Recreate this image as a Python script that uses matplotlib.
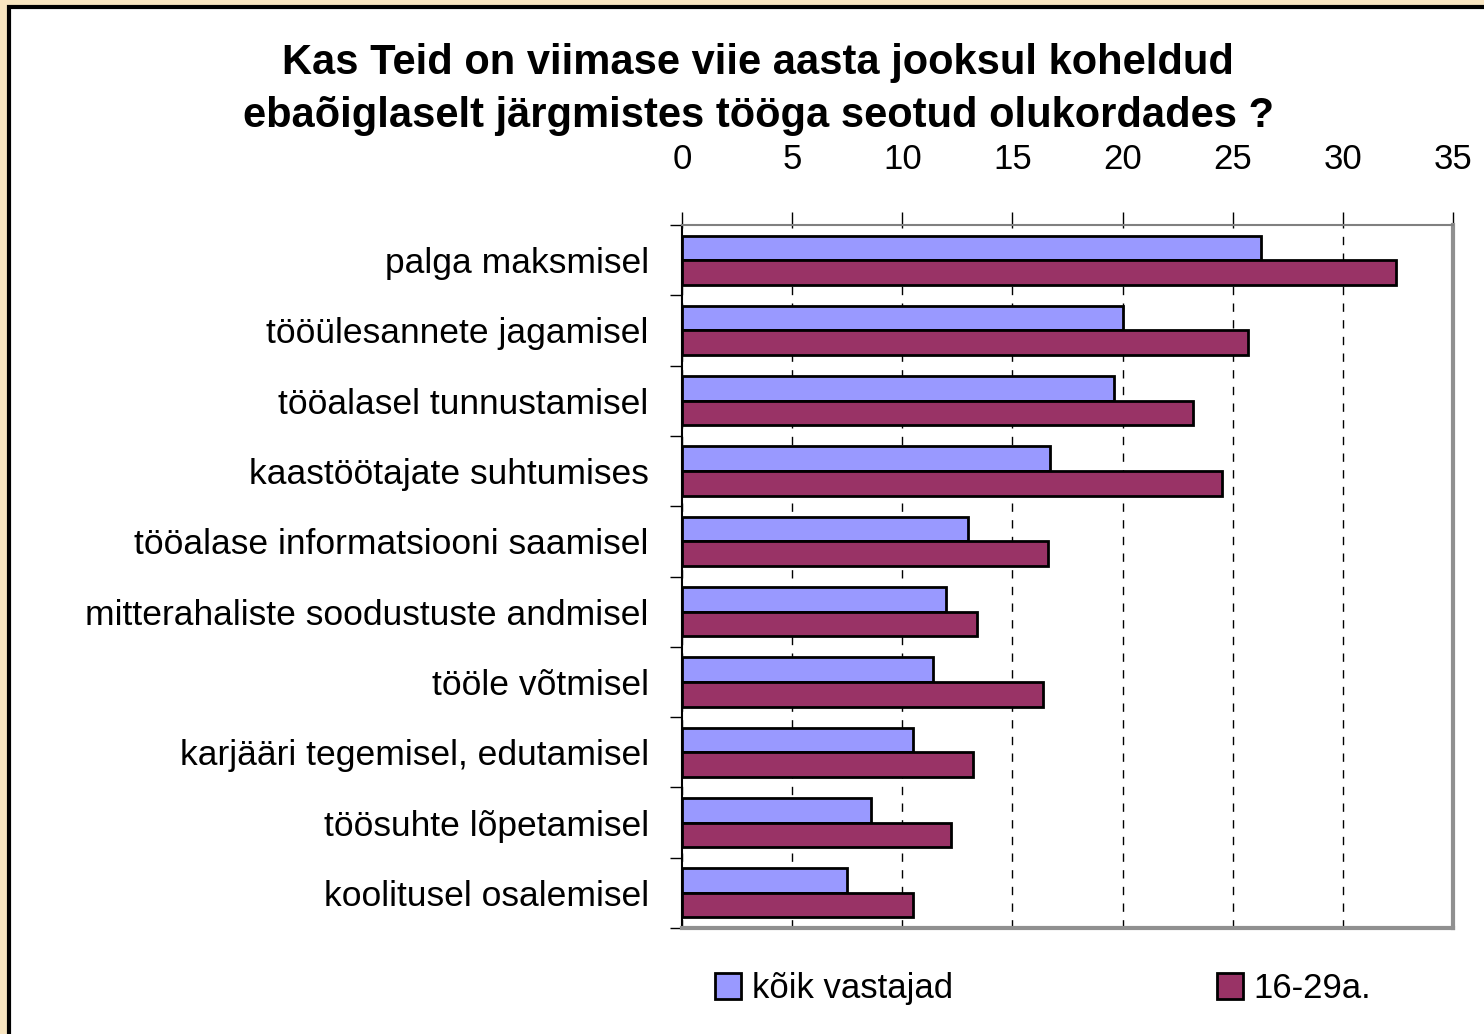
import matplotlib.pyplot as plt
from matplotlib.patches import Rectangle, Patch
import numpy as np

plt.rcParams['font.family'] = ['Liberation Sans', 'DejaVu Sans']

categories = ['palga maksmisel', 'tööülesannete jagamisel', 'tööalasel tunnustamisel',
              'kaastöötajate suhtumises', 'tööalase informatsiooni saamisel',
              'mitterahaliste soodustuste andmisel', 'tööle võtmisel',
              'karjääri tegemisel, edutamisel', 'töösuhte lõpetamisel',
              'koolitusel osalemisel']
koik = [26.3, 20.0, 19.6, 16.7, 13.0, 12.0, 11.4, 10.5, 8.6, 7.5]
noored = [32.4, 25.7, 23.2, 24.5, 16.6, 13.4, 16.4, 13.2, 12.2, 10.5]
series_names = ['kõik vastajad', '16-29a.']
x_ticks = [0, 5, 10, 15, 20, 25, 30, 35]

blue = '#9999FF'
red = '#993366'

fig = plt.figure(figsize=(14.84, 10.34), dpi=100, facecolor='#F8E5C0')
fig.patches.append(Rectangle((0.006, -0.1), 1.1, 1.0932, transform=fig.transFigure,
                             facecolor='white', edgecolor='black', linewidth=3, zorder=-10))

ax = fig.add_axes([0.4596, 0.1025, 0.5195, 0.6799])
ax.patch.set_alpha(0)
y = np.arange(len(categories))
h = 0.35
ax.barh(y - h / 2, koik, h, color=blue, edgecolor='black', linewidth=2, zorder=3)
ax.barh(y + h / 2, noored, h, color=red, edgecolor='black', linewidth=2, zorder=3)

ax.set_xlim(0, 35)
ax.set_ylim(len(categories) - 0.5, -0.5)
ax.xaxis.tick_top()
ax.set_xticks(x_ticks)
ax.set_xticklabels([str(t) for t in x_ticks], fontsize=25)
ax.tick_params(axis='x', length=9.5, width=1, pad=26, color='black')

ax.set_yticks(y)
ax.set_yticklabels(categories, fontsize=25.5)
ax.set_yticks(np.arange(-0.5, len(categories)), minor=True)
ax.tick_params(axis='y', which='major', length=0, pad=24)
ax.tick_params(axis='y', which='minor', length=8.5, width=1, color='black')

ax.grid(axis='x', color='black', linestyle=(0, (6, 6)), linewidth=1)
ax.set_axisbelow(True)

ax.spines['left'].set_color('black')
ax.spines['left'].set_linewidth(1.5)
ax.spines['top'].set_color('#808080')
ax.spines['top'].set_linewidth(1.5)
ax.spines['right'].set_color('#909090')
ax.spines['right'].set_linewidth(3)
ax.spines['bottom'].set_color('#909090')
ax.spines['bottom'].set_linewidth(3)

fig.text(0.511, 0.9135, 'Kas Teid on viimase viie aasta jooksul koheldud\n'
         'ebaõiglaselt järgmistes tööga seotud olukordades ?',
         ha='center', va='center', fontsize=30, fontweight='bold', linespacing=1.42)

handles = [Patch(facecolor=blue, edgecolor='black', linewidth=2),
           Patch(facecolor=red, edgecolor='black', linewidth=2)]
fig.legend(handles, series_names, loc='center left', bbox_to_anchor=(0.482, 0.044),
           ncol=2, frameon=False, fontsize=25, handlelength=0.75, handleheight=0.75,
           handletextpad=0.3, columnspacing=7.6, borderpad=0, borderaxespad=0)

fig.savefig('out.png', dpi=100, facecolor=fig.get_facecolor())
